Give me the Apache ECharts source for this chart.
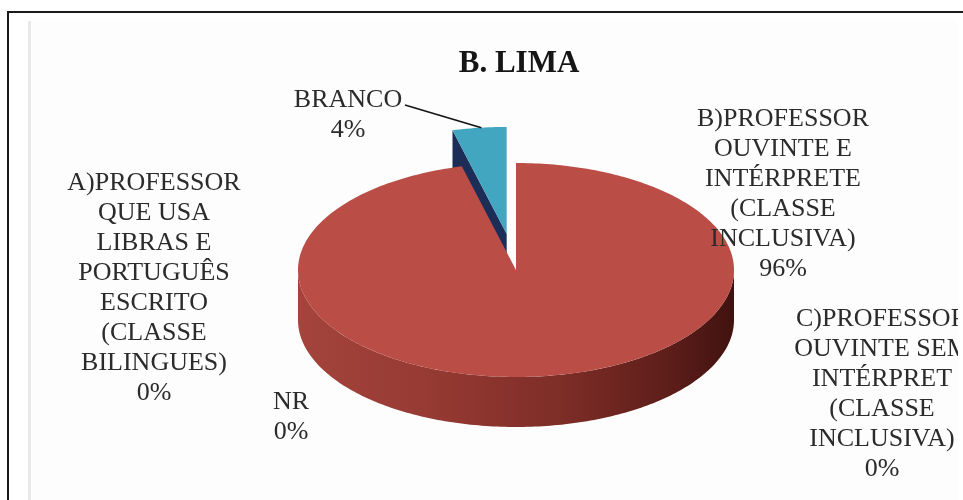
<!DOCTYPE html>
<html>
<head>
<meta charset="utf-8">
<script src="https://cdn.jsdelivr.net/npm/echarts@6/dist/echarts.min.js"></script>
<style>
  html, body { margin: 0; padding: 0; background: #ffffff; }
  #chart { width: 963px; height: 500px; }
</style>
</head>
<body>
<div id="chart"></div>
<script>
// Category names (wrapped as shown in the data labels) and their shares in %
const categories = [
  'A)PROFESSOR\nQUE USA\nLIBRAS E\nPORTUGUÊS\nESCRITO\n(CLASSE\nBILINGUES)',
  'B)PROFESSOR\nOUVINTE E\nINTÉRPRETE\n(CLASSE\nINCLUSIVA)',
  'C)PROFESSOR\nOUVINTE SEM\nINTÉRPRET\n(CLASSE\nINCLUSIVA)',
  'NR',
  'BRANCO'
];
const values = [0, 96, 0, 0, 4];
const chartTitle = 'B. LIMA';

// Slice styling
const topColors  = ['#4F81BD', '#BA4E46', '#9BBB59', '#8064A2', '#42A6C1'];
const wallColors = ['#2c4d75', '#7a2a24', '#5f7530', '#4d3b62', '#1c2d58'];
const explode    = [0, 0, 0, 0, 0.34];

// Pie geometry (tilted disc)
const PIE = { cx: 516, cy: 270, rx: 218, ry: 107, depth: 50 };

// Label placement: [centre x, top y]; optional leader start point
const labelPos = [[154, 168], [783, 104], [882, 304], [291, 387], [348, 85]];
const leaderFrom = [null, null, null, null, [405, 105]];

const total = values.reduce((a, b) => a + b, 0);
const FONT = '"Liberation Serif", "Times New Roman", serif';

function rimPoint(theta, ox, oy, dz) {
  return [PIE.cx + ox + PIE.rx * Math.sin(theta),
          PIE.cy + oy - PIE.ry * Math.cos(theta) + dz];
}
function arc(a, b, ox, oy, dz) {
  const pts = [];
  const n = Math.max(2, Math.ceil(Math.abs(b - a) / (Math.PI / 180)));
  for (let i = 0; i <= n; i++) {
    pts.push(rimPoint(a + (b - a) * i / n, ox, oy, dz));
  }
  return pts;
}

function renderItem(params, api) {
  const i = params.dataIndex;
  const v = api.value(0);
  let before = 0;
  for (let k = 0; k < i; k++) before += values[k];
  const ts = before / total * Math.PI * 2;
  const te = (before + v) / total * Math.PI * 2;
  const tm = (ts + te) / 2;
  const ex = explode[i];
  const ox = ex * PIE.rx * Math.sin(tm);
  const oy = -ex * PIE.ry * Math.cos(tm);
  const children = [];
  const base = 10 + Math.round((1 - Math.cos(tm)) * 10);
  const c = [PIE.cx + ox, PIE.cy + oy];
  const cb = [c[0], c[1] + PIE.depth];

  if (v > 0) {
    // radial walls
    if (Math.sin(ts) < -1e-6) {
      const p = rimPoint(ts, ox, oy, 0), q = rimPoint(ts, ox, oy, PIE.depth);
      children.push({ type: 'polygon', z2: base, shape: { points: [c, p, q, cb] },
        style: { fill: wallColors[i] } });
    }
    if (Math.sin(te) > 1e-6) {
      const p = rimPoint(te, ox, oy, 0), q = rimPoint(te, ox, oy, PIE.depth);
      children.push({ type: 'polygon', z2: base, shape: { points: [c, p, q, cb] },
        style: { fill: wallColors[i] } });
    }
    // front rim wall
    const a = Math.max(ts, Math.PI / 2), b = Math.min(te, Math.PI * 1.5);
    if (b > a) {
      const topArc = arc(a, b, ox, oy, 0);
      const botArc = arc(b, a, ox, oy, PIE.depth);
      children.push({ type: 'polygon', z2: base + 1,
        shape: { points: topArc.concat(botArc) },
        style: { fill: new echarts.graphic.LinearGradient(
          PIE.cx - PIE.rx, 0, PIE.cx + PIE.rx, 0, [
            { offset: 0, color: '#a4443c' },
            { offset: 0.3, color: '#963a33' },
            { offset: 0.6, color: '#7e2d27' },
            { offset: 0.85, color: '#5e1e1a' },
            { offset: 1, color: '#40120f' }
          ], true) } });
    }
    // top face
    children.push({ type: 'polygon', z2: base + 2,
      shape: { points: [c].concat(arc(ts, te, ox, oy, 0)) },
      style: { fill: topColors[i] } });
  }

  // data label
  const pct = Math.round(v / total * 100) + '%';
  children.push({ type: 'text', z2: 200,
    style: { x: labelPos[i][0], y: labelPos[i][1], text: categories[i] + '\n' + pct,
      align: 'center', verticalAlign: 'top', lineHeight: 30,
      font: '26px ' + FONT, fill: '#2b2b2b' } });

  if (leaderFrom[i]) {
    const end = rimPoint(tm, ox, oy, 0);
    children.push({ type: 'line', z2: 199,
      shape: { x1: leaderFrom[i][0], y1: leaderFrom[i][1], x2: end[0] + 2, y2: end[1] },
      style: { stroke: '#151515', lineWidth: 1.8 } });
  }
  return { type: 'group', children };
}

const chart = echarts.init(document.getElementById('chart'), null, { renderer: 'canvas' });
chart.setOption({
  backgroundColor: '#ffffff',
  animation: false,
  graphic: [
    { type: 'rect', z: 0, shape: { x: 28, y: 21, width: 935, height: 479 }, style: { fill: '#fdfdfd' } },
    { type: 'rect', z: 1, shape: { x: 28, y: 21, width: 3, height: 479 }, style: { fill: '#e9e9e9' } },
    { type: 'line', z: 50, shape: { x1: 7, y1: 12, x2: 963, y2: 12 }, style: { stroke: '#1a1a1a', lineWidth: 2 } },
    { type: 'line', z: 50, shape: { x1: 8, y1: 11, x2: 8, y2: 500 }, style: { stroke: '#1a1a1a', lineWidth: 2 } },
    { type: 'rect', z: 40, shape: { x: 958, y: 14, width: 5, height: 486 }, style: { fill: '#ffffff' } },
    { type: 'text', z: 30, style: { x: 519, y: 64, text: chartTitle, align: 'center', verticalAlign: 'middle',
        font: 'bold 31px ' + FONT, fill: '#151515' } }
  ],
  series: [{
    type: 'custom',
    coordinateSystem: 'none',
    z: 10,
    renderItem: renderItem,
    data: values.map((v, i) => ({ name: categories[i], value: [v] }))
  }]
});
</script>
</body>
</html>
